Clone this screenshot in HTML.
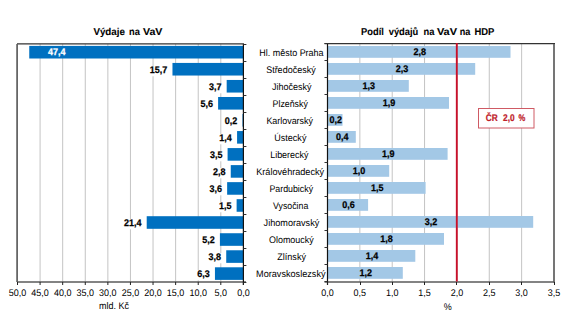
<!DOCTYPE html>
<html><head><meta charset="utf-8"><style>html,body{margin:0;padding:0;width:567px;height:316px;overflow:hidden;background:#fff}</style></head>
<body><svg width="567" height="316" viewBox="0 0 567 316" style="position:absolute;left:0;top:0;font-family:'Liberation Sans',sans-serif;text-rendering:geometricPrecision"><rect width="567" height="316" fill="#fff"/><text x="93.40" y="35.0" font-size="10" font-weight="bold" fill="#000" stroke="#000" stroke-width="0.08" textLength="31.50" lengthAdjust="spacingAndGlyphs">Výdaje</text><text x="129.10" y="35.0" font-size="10" font-weight="bold" fill="#000" stroke="#000" stroke-width="0.08" textLength="10.83" lengthAdjust="spacingAndGlyphs">na</text><text x="142.90" y="35.0" font-size="10" font-weight="bold" fill="#000" stroke="#000" stroke-width="0.08" textLength="19.51" lengthAdjust="spacingAndGlyphs">VaV</text><text x="361.10" y="35.0" font-size="10" font-weight="bold" fill="#000" stroke="#000" stroke-width="0.08" textLength="22.80" lengthAdjust="spacingAndGlyphs">Podíl</text><text x="388.70" y="35.0" font-size="10" font-weight="bold" fill="#000" stroke="#000" stroke-width="0.08" textLength="29.60" lengthAdjust="spacingAndGlyphs">výdajů</text><text x="423.50" y="35.0" font-size="10" font-weight="bold" fill="#000" stroke="#000" stroke-width="0.08" textLength="10.93" lengthAdjust="spacingAndGlyphs">na</text><text x="436.90" y="35.0" font-size="10" font-weight="bold" fill="#000" stroke="#000" stroke-width="0.08" textLength="20.11" lengthAdjust="spacingAndGlyphs">VaV</text><text x="459.80" y="35.0" font-size="10" font-weight="bold" fill="#000" stroke="#000" stroke-width="0.08" textLength="10.63" lengthAdjust="spacingAndGlyphs">na</text><text x="474.40" y="35.0" font-size="10" font-weight="bold" fill="#000" stroke="#000" stroke-width="0.08" textLength="19.90" lengthAdjust="spacingAndGlyphs">HDP</text><line x1="220.81" y1="44" x2="220.81" y2="282" stroke="#c4c4c4" stroke-width="1"/><line x1="198.22" y1="44" x2="198.22" y2="282" stroke="#c4c4c4" stroke-width="1"/><line x1="175.63" y1="44" x2="175.63" y2="282" stroke="#c4c4c4" stroke-width="1"/><line x1="153.04" y1="44" x2="153.04" y2="282" stroke="#c4c4c4" stroke-width="1"/><line x1="130.45" y1="44" x2="130.45" y2="282" stroke="#c4c4c4" stroke-width="1"/><line x1="107.86" y1="44" x2="107.86" y2="282" stroke="#c4c4c4" stroke-width="1"/><line x1="85.27" y1="44" x2="85.27" y2="282" stroke="#c4c4c4" stroke-width="1"/><line x1="62.68" y1="44" x2="62.68" y2="282" stroke="#c4c4c4" stroke-width="1"/><line x1="40.09" y1="44" x2="40.09" y2="282" stroke="#c4c4c4" stroke-width="1"/><line x1="359.86" y1="44" x2="359.86" y2="282" stroke="#c4c4c4" stroke-width="1"/><line x1="392.21" y1="44" x2="392.21" y2="282" stroke="#c4c4c4" stroke-width="1"/><line x1="424.56" y1="44" x2="424.56" y2="282" stroke="#c4c4c4" stroke-width="1"/><line x1="456.92" y1="44" x2="456.92" y2="282" stroke="#c4c4c4" stroke-width="1"/><line x1="489.27" y1="44" x2="489.27" y2="282" stroke="#c4c4c4" stroke-width="1"/><line x1="521.63" y1="44" x2="521.63" y2="282" stroke="#c4c4c4" stroke-width="1"/><rect x="29.25" y="45.90" width="214.15" height="12.6" fill="#0070c0"/><rect x="327.50" y="46.00" width="183.00" height="11.8" fill="#a3c8e6"/><rect x="172.47" y="62.93" width="70.93" height="12.6" fill="#0070c0"/><rect x="327.50" y="63.00" width="147.70" height="11.8" fill="#a3c8e6"/><rect x="226.68" y="79.96" width="16.72" height="12.6" fill="#0070c0"/><rect x="327.50" y="80.00" width="81.30" height="11.8" fill="#a3c8e6"/><rect x="218.10" y="96.99" width="25.30" height="12.6" fill="#0070c0"/><rect x="327.50" y="97.00" width="121.50" height="11.8" fill="#a3c8e6"/><rect x="242.50" y="114.02" width="0.90" height="12.6" fill="#0070c0"/><rect x="327.50" y="114.00" width="15.00" height="11.8" fill="#a3c8e6"/><rect x="237.07" y="131.05" width="6.33" height="12.6" fill="#0070c0"/><rect x="327.50" y="131.00" width="28.30" height="11.8" fill="#a3c8e6"/><rect x="227.59" y="148.08" width="15.81" height="12.6" fill="#0070c0"/><rect x="327.50" y="148.00" width="120.10" height="11.8" fill="#a3c8e6"/><rect x="230.75" y="165.11" width="12.65" height="12.6" fill="#0070c0"/><rect x="327.50" y="165.00" width="61.70" height="11.8" fill="#a3c8e6"/><rect x="227.14" y="182.14" width="16.26" height="12.6" fill="#0070c0"/><rect x="327.50" y="182.00" width="98.10" height="11.8" fill="#a3c8e6"/><rect x="236.62" y="199.17" width="6.78" height="12.6" fill="#0070c0"/><rect x="327.50" y="199.00" width="40.60" height="11.8" fill="#a3c8e6"/><rect x="146.71" y="216.20" width="96.69" height="12.6" fill="#0070c0"/><rect x="327.50" y="216.00" width="205.70" height="11.8" fill="#a3c8e6"/><rect x="219.91" y="233.23" width="23.49" height="12.6" fill="#0070c0"/><rect x="327.50" y="233.00" width="116.50" height="11.8" fill="#a3c8e6"/><rect x="226.23" y="250.26" width="17.17" height="12.6" fill="#0070c0"/><rect x="327.50" y="250.00" width="87.80" height="11.8" fill="#a3c8e6"/><rect x="214.94" y="267.29" width="28.46" height="12.6" fill="#0070c0"/><rect x="327.50" y="267.00" width="75.30" height="11.8" fill="#a3c8e6"/><line x1="17" y1="43.9" x2="244" y2="43.9" stroke="#333" stroke-width="1.4"/><line x1="17.1" y1="44" x2="17.1" y2="282" stroke="#5e5e5e" stroke-width="1.7"/><line x1="17" y1="282" x2="246" y2="282" stroke="#5a5a5a" stroke-width="1.6"/><line x1="243.4" y1="44" x2="243.4" y2="285" stroke="#111" stroke-width="1.2"/><line x1="243.4" y1="44.50" x2="246.4" y2="44.50" stroke="#333" stroke-width="1"/><line x1="243.4" y1="61.50" x2="246.4" y2="61.50" stroke="#333" stroke-width="1"/><line x1="243.4" y1="78.50" x2="246.4" y2="78.50" stroke="#333" stroke-width="1"/><line x1="243.4" y1="95.50" x2="246.4" y2="95.50" stroke="#333" stroke-width="1"/><line x1="243.4" y1="112.50" x2="246.4" y2="112.50" stroke="#333" stroke-width="1"/><line x1="243.4" y1="129.50" x2="246.4" y2="129.50" stroke="#333" stroke-width="1"/><line x1="243.4" y1="146.50" x2="246.4" y2="146.50" stroke="#333" stroke-width="1"/><line x1="243.4" y1="163.50" x2="246.4" y2="163.50" stroke="#333" stroke-width="1"/><line x1="243.4" y1="180.50" x2="246.4" y2="180.50" stroke="#333" stroke-width="1"/><line x1="243.4" y1="197.50" x2="246.4" y2="197.50" stroke="#333" stroke-width="1"/><line x1="243.4" y1="214.50" x2="246.4" y2="214.50" stroke="#333" stroke-width="1"/><line x1="243.4" y1="231.50" x2="246.4" y2="231.50" stroke="#333" stroke-width="1"/><line x1="243.4" y1="248.50" x2="246.4" y2="248.50" stroke="#333" stroke-width="1"/><line x1="243.4" y1="265.50" x2="246.4" y2="265.50" stroke="#333" stroke-width="1"/><line x1="243.4" y1="282.50" x2="246.4" y2="282.50" stroke="#333" stroke-width="1"/><line x1="243.40" y1="282" x2="243.40" y2="285" stroke="#222" stroke-width="1"/><line x1="220.81" y1="282" x2="220.81" y2="285" stroke="#222" stroke-width="1"/><line x1="198.22" y1="282" x2="198.22" y2="285" stroke="#222" stroke-width="1"/><line x1="175.63" y1="282" x2="175.63" y2="285" stroke="#222" stroke-width="1"/><line x1="153.04" y1="282" x2="153.04" y2="285" stroke="#222" stroke-width="1"/><line x1="130.45" y1="282" x2="130.45" y2="285" stroke="#222" stroke-width="1"/><line x1="107.86" y1="282" x2="107.86" y2="285" stroke="#222" stroke-width="1"/><line x1="85.27" y1="282" x2="85.27" y2="285" stroke="#222" stroke-width="1"/><line x1="62.68" y1="282" x2="62.68" y2="285" stroke="#222" stroke-width="1"/><line x1="40.09" y1="282" x2="40.09" y2="285" stroke="#222" stroke-width="1"/><line x1="17.50" y1="282" x2="17.50" y2="285" stroke="#222" stroke-width="1"/><line x1="324.5" y1="43.7" x2="555" y2="43.7" stroke="#333" stroke-width="1.3"/><line x1="554" y1="44" x2="554" y2="282.4" stroke="#666" stroke-width="1.8"/><line x1="324.5" y1="282" x2="554.5" y2="282" stroke="#5a5a5a" stroke-width="1.6"/><line x1="327.5" y1="44" x2="327.5" y2="285" stroke="#111" stroke-width="1.2"/><line x1="324.5" y1="43.50" x2="327.5" y2="43.50" stroke="#333" stroke-width="1"/><line x1="324.5" y1="60.50" x2="327.5" y2="60.50" stroke="#333" stroke-width="1"/><line x1="324.5" y1="77.50" x2="327.5" y2="77.50" stroke="#333" stroke-width="1"/><line x1="324.5" y1="94.50" x2="327.5" y2="94.50" stroke="#333" stroke-width="1"/><line x1="324.5" y1="111.50" x2="327.5" y2="111.50" stroke="#333" stroke-width="1"/><line x1="324.5" y1="128.50" x2="327.5" y2="128.50" stroke="#333" stroke-width="1"/><line x1="324.5" y1="145.50" x2="327.5" y2="145.50" stroke="#333" stroke-width="1"/><line x1="324.5" y1="162.50" x2="327.5" y2="162.50" stroke="#333" stroke-width="1"/><line x1="324.5" y1="179.50" x2="327.5" y2="179.50" stroke="#333" stroke-width="1"/><line x1="324.5" y1="196.50" x2="327.5" y2="196.50" stroke="#333" stroke-width="1"/><line x1="324.5" y1="213.50" x2="327.5" y2="213.50" stroke="#333" stroke-width="1"/><line x1="324.5" y1="230.50" x2="327.5" y2="230.50" stroke="#333" stroke-width="1"/><line x1="324.5" y1="247.50" x2="327.5" y2="247.50" stroke="#333" stroke-width="1"/><line x1="324.5" y1="264.50" x2="327.5" y2="264.50" stroke="#333" stroke-width="1"/><line x1="324.5" y1="281.50" x2="327.5" y2="281.50" stroke="#333" stroke-width="1"/><line x1="327.50" y1="282" x2="327.50" y2="285" stroke="#222" stroke-width="1"/><line x1="360.50" y1="282" x2="360.50" y2="285" stroke="#222" stroke-width="1"/><line x1="392.50" y1="282" x2="392.50" y2="285" stroke="#222" stroke-width="1"/><line x1="424.50" y1="282" x2="424.50" y2="285" stroke="#222" stroke-width="1"/><line x1="456.50" y1="282" x2="456.50" y2="285" stroke="#222" stroke-width="1"/><line x1="489.50" y1="282" x2="489.50" y2="285" stroke="#222" stroke-width="1"/><line x1="521.50" y1="282" x2="521.50" y2="285" stroke="#222" stroke-width="1"/><line x1="554.50" y1="282" x2="554.50" y2="285" stroke="#222" stroke-width="1"/><line x1="456.8" y1="43" x2="456.8" y2="281.5" stroke="#c8102a" stroke-width="1.9"/><text x="237.14" y="296.20" font-size="9.6" fill="#000" textLength="12.51" lengthAdjust="spacingAndGlyphs">0,0</text><text x="214.55" y="296.20" font-size="9.6" fill="#000" textLength="12.51" lengthAdjust="spacingAndGlyphs">5,0</text><text x="189.46" y="296.20" font-size="9.6" fill="#000" textLength="17.52" lengthAdjust="spacingAndGlyphs">10,0</text><text x="166.87" y="296.20" font-size="9.6" fill="#000" textLength="17.52" lengthAdjust="spacingAndGlyphs">15,0</text><text x="144.28" y="296.20" font-size="9.6" fill="#000" textLength="17.52" lengthAdjust="spacingAndGlyphs">20,0</text><text x="121.69" y="296.20" font-size="9.6" fill="#000" textLength="17.52" lengthAdjust="spacingAndGlyphs">25,0</text><text x="99.10" y="296.20" font-size="9.6" fill="#000" textLength="17.52" lengthAdjust="spacingAndGlyphs">30,0</text><text x="76.51" y="296.20" font-size="9.6" fill="#000" textLength="17.52" lengthAdjust="spacingAndGlyphs">35,0</text><text x="53.92" y="296.20" font-size="9.6" fill="#000" textLength="17.52" lengthAdjust="spacingAndGlyphs">40,0</text><text x="31.33" y="296.20" font-size="9.6" fill="#000" textLength="17.52" lengthAdjust="spacingAndGlyphs">45,0</text><text x="8.74" y="296.20" font-size="9.6" fill="#000" textLength="17.52" lengthAdjust="spacingAndGlyphs">50,0</text><text x="321.24" y="296.20" font-size="9.6" fill="#000" textLength="12.51" lengthAdjust="spacingAndGlyphs">0,0</text><text x="353.60" y="296.20" font-size="9.6" fill="#000" textLength="12.51" lengthAdjust="spacingAndGlyphs">0,5</text><text x="385.95" y="296.20" font-size="9.6" fill="#000" textLength="12.51" lengthAdjust="spacingAndGlyphs">1,0</text><text x="418.31" y="296.20" font-size="9.6" fill="#000" textLength="12.51" lengthAdjust="spacingAndGlyphs">1,5</text><text x="450.66" y="296.20" font-size="9.6" fill="#000" textLength="12.51" lengthAdjust="spacingAndGlyphs">2,0</text><text x="483.02" y="296.20" font-size="9.6" fill="#000" textLength="12.51" lengthAdjust="spacingAndGlyphs">2,5</text><text x="515.37" y="296.20" font-size="9.6" fill="#000" textLength="12.51" lengthAdjust="spacingAndGlyphs">3,0</text><text x="547.73" y="296.20" font-size="9.6" fill="#000" textLength="12.51" lengthAdjust="spacingAndGlyphs">3,5</text><text x="99.00" y="309.30" font-size="9.6" fill="#000" textLength="30.01" lengthAdjust="spacingAndGlyphs">mld. Kč</text><text x="443.70" y="309.80" font-size="9.6" fill="#000" textLength="8.00" lengthAdjust="spacingAndGlyphs">%</text><text x="259.34" y="55.60" font-size="9.6" fill="#000" textLength="64.22" lengthAdjust="spacingAndGlyphs">Hl. město Praha</text><text x="266.14" y="72.60" font-size="9.6" fill="#000" textLength="49.52" lengthAdjust="spacingAndGlyphs">Středočeský</text><text x="271.94" y="89.60" font-size="9.6" fill="#000" textLength="39.52" lengthAdjust="spacingAndGlyphs">Jihočeský</text><text x="272.59" y="106.60" font-size="9.6" fill="#000" textLength="35.21" lengthAdjust="spacingAndGlyphs">Plzeňský</text><text x="266.39" y="123.60" font-size="9.6" fill="#000" textLength="46.61" lengthAdjust="spacingAndGlyphs">Karlovarský</text><text x="274.30" y="140.60" font-size="9.6" fill="#000" textLength="32.11" lengthAdjust="spacingAndGlyphs">Ústecký</text><text x="270.24" y="157.60" font-size="9.6" fill="#000" textLength="38.12" lengthAdjust="spacingAndGlyphs">Liberecký</text><text x="256.28" y="174.60" font-size="9.6" fill="#000" textLength="67.83" lengthAdjust="spacingAndGlyphs">Královéhradecký</text><text x="269.44" y="191.60" font-size="9.6" fill="#000" textLength="43.62" lengthAdjust="spacingAndGlyphs">Pardubický</text><text x="273.11" y="208.60" font-size="9.6" fill="#000" textLength="35.18" lengthAdjust="spacingAndGlyphs">Vysočina</text><text x="263.59" y="225.60" font-size="9.6" fill="#000" textLength="55.71" lengthAdjust="spacingAndGlyphs">Jihomoravský</text><text x="268.99" y="242.60" font-size="9.6" fill="#000" textLength="44.71" lengthAdjust="spacingAndGlyphs">Olomoucký</text><text x="277.25" y="259.60" font-size="9.6" fill="#000" textLength="28.70" lengthAdjust="spacingAndGlyphs">Zlínský</text><text x="256.04" y="276.60" font-size="9.6" fill="#000" textLength="69.51" lengthAdjust="spacingAndGlyphs">Moravskoslezský</text><text x="48.04" y="54.90" font-size="9.6" font-weight="bold" stroke="#fff" stroke-width="0.25" fill="#fff" textLength="17.52" lengthAdjust="spacingAndGlyphs">47,4</text><text x="413.44" y="54.90" font-size="9.6" font-weight="bold" stroke="#000" stroke-width="0.25" fill="#000" textLength="12.51" lengthAdjust="spacingAndGlyphs">2,8</text><rect x="148.25" y="66.10" width="20.52" height="10.2" fill="#fff"/><text x="149.75" y="72.60" font-size="9.6" font-weight="bold" stroke="#000" stroke-width="0.25" fill="#000" textLength="17.52" lengthAdjust="spacingAndGlyphs">15,7</text><text x="395.79" y="71.90" font-size="9.6" font-weight="bold" stroke="#000" stroke-width="0.25" fill="#000" textLength="12.51" lengthAdjust="spacingAndGlyphs">2,3</text><rect x="207.47" y="83.10" width="15.51" height="10.2" fill="#fff"/><text x="208.97" y="89.60" font-size="9.6" font-weight="bold" stroke="#000" stroke-width="0.25" fill="#000" textLength="12.51" lengthAdjust="spacingAndGlyphs">3,7</text><text x="362.59" y="88.90" font-size="9.6" font-weight="bold" stroke="#000" stroke-width="0.25" fill="#000" textLength="12.51" lengthAdjust="spacingAndGlyphs">1,3</text><rect x="198.89" y="100.10" width="15.51" height="10.2" fill="#fff"/><text x="200.39" y="106.60" font-size="9.6" font-weight="bold" stroke="#000" stroke-width="0.25" fill="#000" textLength="12.51" lengthAdjust="spacingAndGlyphs">5,6</text><text x="382.69" y="105.90" font-size="9.6" font-weight="bold" stroke="#000" stroke-width="0.25" fill="#000" textLength="12.51" lengthAdjust="spacingAndGlyphs">1,9</text><rect x="223.29" y="117.10" width="15.51" height="10.2" fill="#fff"/><text x="224.79" y="123.60" font-size="9.6" font-weight="bold" stroke="#000" stroke-width="0.25" fill="#000" textLength="12.51" lengthAdjust="spacingAndGlyphs">0,2</text><text x="329.44" y="122.90" font-size="9.6" font-weight="bold" stroke="#000" stroke-width="0.25" fill="#000" textLength="12.51" lengthAdjust="spacingAndGlyphs">0,2</text><rect x="217.86" y="134.10" width="15.51" height="10.2" fill="#fff"/><text x="219.36" y="140.60" font-size="9.6" font-weight="bold" stroke="#000" stroke-width="0.25" fill="#000" textLength="12.51" lengthAdjust="spacingAndGlyphs">1,4</text><text x="336.09" y="139.90" font-size="9.6" font-weight="bold" stroke="#000" stroke-width="0.25" fill="#000" textLength="12.51" lengthAdjust="spacingAndGlyphs">0,4</text><rect x="208.38" y="151.10" width="15.51" height="10.2" fill="#fff"/><text x="209.88" y="157.60" font-size="9.6" font-weight="bold" stroke="#000" stroke-width="0.25" fill="#000" textLength="12.51" lengthAdjust="spacingAndGlyphs">3,5</text><text x="381.99" y="156.90" font-size="9.6" font-weight="bold" stroke="#000" stroke-width="0.25" fill="#000" textLength="12.51" lengthAdjust="spacingAndGlyphs">1,9</text><rect x="211.54" y="168.10" width="15.51" height="10.2" fill="#fff"/><text x="213.04" y="174.60" font-size="9.6" font-weight="bold" stroke="#000" stroke-width="0.25" fill="#000" textLength="12.51" lengthAdjust="spacingAndGlyphs">2,8</text><text x="352.79" y="173.90" font-size="9.6" font-weight="bold" stroke="#000" stroke-width="0.25" fill="#000" textLength="12.51" lengthAdjust="spacingAndGlyphs">1,0</text><rect x="207.92" y="185.10" width="15.51" height="10.2" fill="#fff"/><text x="209.42" y="191.60" font-size="9.6" font-weight="bold" stroke="#000" stroke-width="0.25" fill="#000" textLength="12.51" lengthAdjust="spacingAndGlyphs">3,6</text><text x="370.99" y="190.90" font-size="9.6" font-weight="bold" stroke="#000" stroke-width="0.25" fill="#000" textLength="12.51" lengthAdjust="spacingAndGlyphs">1,5</text><rect x="217.41" y="202.10" width="15.51" height="10.2" fill="#fff"/><text x="218.91" y="208.60" font-size="9.6" font-weight="bold" stroke="#000" stroke-width="0.25" fill="#000" textLength="12.51" lengthAdjust="spacingAndGlyphs">1,5</text><text x="342.24" y="207.90" font-size="9.6" font-weight="bold" stroke="#000" stroke-width="0.25" fill="#000" textLength="12.51" lengthAdjust="spacingAndGlyphs">0,6</text><rect x="122.50" y="219.10" width="20.52" height="10.2" fill="#fff"/><text x="124.00" y="225.60" font-size="9.6" font-weight="bold" stroke="#000" stroke-width="0.25" fill="#000" textLength="17.52" lengthAdjust="spacingAndGlyphs">21,4</text><text x="424.79" y="224.90" font-size="9.6" font-weight="bold" stroke="#000" stroke-width="0.25" fill="#000" textLength="12.51" lengthAdjust="spacingAndGlyphs">3,2</text><rect x="200.70" y="236.10" width="15.51" height="10.2" fill="#fff"/><text x="202.20" y="242.60" font-size="9.6" font-weight="bold" stroke="#000" stroke-width="0.25" fill="#000" textLength="12.51" lengthAdjust="spacingAndGlyphs">5,2</text><text x="380.19" y="241.90" font-size="9.6" font-weight="bold" stroke="#000" stroke-width="0.25" fill="#000" textLength="12.51" lengthAdjust="spacingAndGlyphs">1,8</text><rect x="207.02" y="253.10" width="15.51" height="10.2" fill="#fff"/><text x="208.52" y="259.60" font-size="9.6" font-weight="bold" stroke="#000" stroke-width="0.25" fill="#000" textLength="12.51" lengthAdjust="spacingAndGlyphs">3,8</text><text x="365.84" y="258.90" font-size="9.6" font-weight="bold" stroke="#000" stroke-width="0.25" fill="#000" textLength="12.51" lengthAdjust="spacingAndGlyphs">1,4</text><rect x="195.73" y="270.10" width="15.51" height="10.2" fill="#fff"/><text x="197.23" y="276.60" font-size="9.6" font-weight="bold" stroke="#000" stroke-width="0.25" fill="#000" textLength="12.51" lengthAdjust="spacingAndGlyphs">6,3</text><text x="359.59" y="275.90" font-size="9.6" font-weight="bold" stroke="#000" stroke-width="0.25" fill="#000" textLength="12.51" lengthAdjust="spacingAndGlyphs">1,2</text><rect x="478.5" y="108.5" width="55.5" height="19.5" fill="#fff" stroke="#cf5a64" stroke-width="1"/><text x="485.80" y="121.0" font-size="9.6" font-weight="bold" fill="#c0202a" stroke="#c0202a" stroke-width="0.22" textLength="11.90" lengthAdjust="spacingAndGlyphs">ČR</text><text x="503.00" y="121.0" font-size="9.6" font-weight="bold" fill="#c0202a" stroke="#c0202a" stroke-width="0.22" textLength="11.60" lengthAdjust="spacingAndGlyphs">2,0</text><text x="518.40" y="121.0" font-size="9.6" font-weight="bold" fill="#c0202a" stroke="#c0202a" stroke-width="0.22" textLength="6.80" lengthAdjust="spacingAndGlyphs">%</text></svg></body></html>
